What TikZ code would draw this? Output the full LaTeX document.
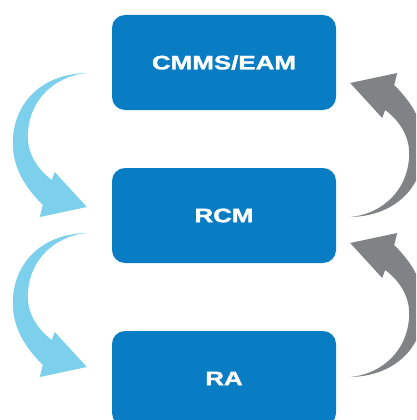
\documentclass[tikz,border=0pt]{standalone}
\usepackage{fontspec}
\usepackage{graphicx}
\setmainfont{Liberation Sans}
\newfontfamily\labelfont[FakeBold=1.3]{Liberation Sans Bold}
\usetikzlibrary{calc}

\definecolor{boxblue}{RGB}{8,125,196}
\definecolor{arcblue}{RGB}{125,208,236}
\definecolor{arcgray}{RGB}{128,130,133}

\tikzset{
  stagebox/.style={fill=boxblue, draw=none, rounded corners=13pt,
    minimum width=224pt, minimum height=95pt, inner sep=0pt,
    text=white, font=\labelfont\fontsize{19.5}{22}\selectfont},
  % curved block arrow, origin at the tapered tail
  bentarrow/.pic={
    \fill[pic actions]
      (0,0) .. controls (-47,1) and (-74,32) .. (-74,70)
            .. controls (-74,97) and (-59,117) .. (-44,132)
      -- (-47,144) -- (0,134) -- (-32,99) -- (-35,107)
            .. controls (-51,95) and (-59,79) .. (-59,64)
            .. controls (-59,27) and (-32,3) .. (0,0) -- cycle;
  }
}

\newcommand{\wide}[1]{\scalebox{1.33}[1]{#1}}

\begin{document}
\begin{tikzpicture}[x=1pt, y=-1pt]
  \useasboundingbox (0,0) rectangle (416,420);
  \clip (0,0) rectangle (416,420);

  \node[stagebox] (cmms) at (224,62.5)  {\wide{CMMS/EAM}};
  \node[stagebox] (rcm)  at (224,215.5) {\wide{RCM}};
  \node[stagebox] (ra)   at (224,378.5) {\wide{RA}};

  % downward arrows on the left
  \pic[fill=arcblue] at ($(cmms.west)+(-25,10.5)$) {bentarrow};
  \pic[fill=arcblue] at ($(rcm.west)+(-25,17.5)$) {bentarrow};

  % upward arrows on the right
  \pic[fill=arcgray, rotate=180] at ($(rcm.east)+(14,1.5)$) {bentarrow};
  \pic[fill=arcgray, rotate=180] at ($(ra.east)+(14,-1.5)$) {bentarrow};
\end{tikzpicture}
\end{document}
